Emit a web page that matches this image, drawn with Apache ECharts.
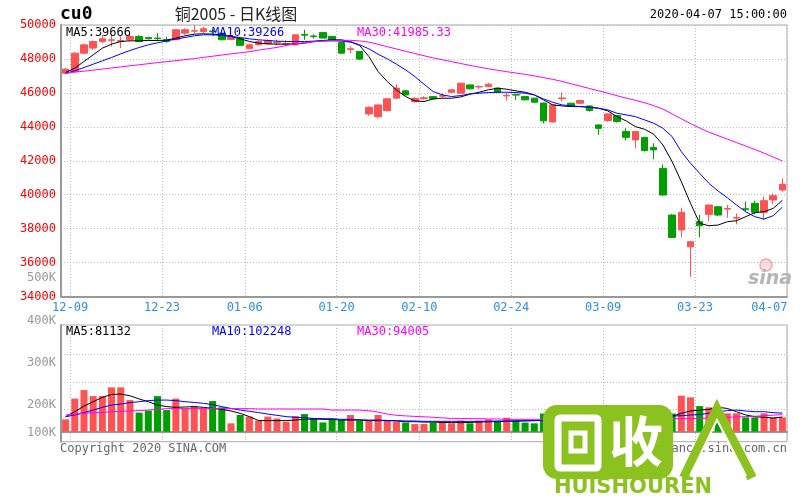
<!DOCTYPE html>
<html><head><meta charset="utf-8">
<script src="https://cdn.jsdelivr.net/npm/echarts@6/dist/echarts.min.js"></script>
<style>html,body{margin:0;padding:0;background:#fff}#c{width:800px;height:500px}</style>
</head><body><div id="c"></div>
<script>
const dates = ['12-09','12-10','12-11','12-12','12-13','12-16','12-17','12-18','12-19','12-20','12-23','12-24','12-25','12-26','12-27','12-30','12-31',
'01-02','01-03','01-06','01-07','01-08','01-09','01-10','01-13','01-14','01-15','01-16','01-17','01-20','01-21','01-22','01-23',
'02-03','02-04','02-05','02-06','02-07','02-10','02-11','02-12','02-13','02-14','02-17','02-18','02-19','02-20','02-21','02-24','02-25','02-26','02-27','02-28',
'03-02','03-03','03-04','03-05','03-06','03-09','03-10','03-11','03-12','03-13','03-16','03-17','03-18','03-19','03-20','03-23','03-24','03-25','03-26','03-27','03-30','03-31',
'04-01','04-02','04-03','04-07'];
const tickLabels = ['12-09','12-23','01-06','01-20','02-10','02-24','03-09','03-23','04-07'];
const opens  = [47160,47260,48340,48640,49030,49100,49040,49130,49320,49260,49230,49130,49130,49520,49640,49620,49650,49520,49150,49200,48620,48830,48890,48950,48880,48830,49450,49350,49560,49320,48970,48560,48440,44760,44600,44960,45690,46120,45480,45660,45780,45800,46040,45980,46470,46350,46370,46280,45820,45900,45780,45690,45400,44290,45660,45390,45390,45230,44110,44370,44660,43720,43230,43380,42790,41550,38800,37920,36930,38410,38840,39290,39150,38620,39170,39490,38960,39690,40280];
const closes = [47400,48340,48830,49030,49190,49130,49080,49320,49030,49190,49200,49030,49720,49720,49660,49780,49600,49130,49300,48800,48830,49030,49090,48990,48900,49420,49400,49320,49230,49130,48340,48600,47990,45150,45290,45650,46280,45880,45680,45710,45650,45840,46180,46570,46240,46370,46510,46040,45850,45870,45590,45450,44350,45290,45700,45230,45550,44960,43910,44760,44310,43380,43720,42600,42640,39980,37480,38960,37230,38170,39390,38800,39190,38660,39130,38960,39650,39940,40610];
const lows   = [47100,47200,48300,48540,48930,48730,48640,49030,48990,49150,49030,48950,49100,49420,49520,49520,49500,49100,49100,48750,48550,48800,48850,48800,48750,48800,49130,49200,49200,49100,48300,48350,47950,44650,44500,44900,45650,45850,45450,45600,45600,45690,46000,45950,46200,46250,46350,46000,45550,45590,45550,45400,44200,44250,45490,45200,45350,44900,43520,44300,44250,43190,42730,42550,42090,39950,37450,37480,35160,37480,38450,38750,38640,38250,39000,38840,38510,39430,40180];
const highs  = [47450,48400,48900,49080,49420,49420,49320,49520,49400,49300,49520,49300,49760,49810,50000,49900,49750,49550,49400,49250,48900,49100,49150,49150,49100,49450,49720,49450,49600,49350,49000,48750,48450,45200,45300,45700,46510,46150,45750,45800,45800,45980,46200,46600,46500,46450,46600,46300,46000,45950,45800,45700,45430,45300,46020,45420,45600,45250,44150,44800,44700,43910,43750,43400,43030,41790,38850,39230,37260,38800,39420,39320,39390,38900,39590,39650,39880,40080,40960];
const ma5  = [47200,47455,47848,48242,48635,48871,49028,49068,49068,49088,49088,49107,49225,49363,49461,49481,49461,49422,49323,49186,49028,48930,48891,48871,48871,48891,48930,49028,49088,49127,49127,49028,48792,48143,47258,46668,46176,45783,45527,45488,45645,45685,45685,45764,45921,46039,46177,46275,46216,46118,46039,45882,45587,45292,45233,45193,45193,45154,45095,44938,44603,44348,44013,43856,43561,42931,41948,40768,39489,38309,38171,38210,38407,38466,38702,38938,38997,39194,39666];
const ma10 = [47160,47298,47494,47691,47888,48084,48301,48497,48674,48832,48950,49068,49166,49264,49363,49422,49422,49383,49323,49264,49186,49127,49088,49048,49028,49028,49028,49048,49068,49068,49048,48989,48832,48596,48281,48006,47691,47357,46963,46511,46078,45882,45783,45843,45941,45980,46019,46039,46039,46019,45980,45882,45646,45449,45292,45233,45193,45154,45095,44997,44800,44702,44603,44407,44210,43915,43423,42538,41850,41260,40669,40217,39823,39391,38997,38702,38564,38761,39266];
const ma30 = [47160,47220,47280,47340,47400,47468,47530,47595,47655,47720,47782,47840,47900,47960,48020,48090,48160,48230,48300,48360,48427,48520,48600,48680,48790,48890,48960,49010,49050,49080,49090,49100,49060,48990,48860,48720,48590,48450,48320,48190,48060,47950,47840,47730,47620,47513,47420,47330,47250,47170,47093,47000,46900,46800,46680,46534,46400,46260,46120,45980,45832,45690,45560,45420,45250,45046,44760,44470,44190,43930,43684,43480,43280,43070,42870,42663,42450,42220,41985.33];
const volumes = [68000,182000,229000,196000,196000,244000,244000,174000,105000,116000,196000,119000,182000,128000,141000,128000,169000,134000,46000,92000,83000,61000,83000,73000,55000,86000,97000,73000,51000,73000,64000,92000,61000,61000,92000,61000,55000,50000,42000,42000,50000,55000,46000,61000,46000,61000,68000,55000,77000,61000,50000,46000,100000,90000,70000,60000,55000,65000,80000,70000,70000,80000,85000,80000,85000,95000,100000,198000,189000,141000,134000,110000,101000,101000,79000,79000,101000,79000,79000];
const volMa5 = [82000,110000,141000,165000,189000,205000,207000,198000,180000,165000,147000,138000,134000,136000,138000,134000,128000,123000,114000,101000,83000,61000,61000,61000,61000,64000,68000,70000,68000,68000,64000,64000,64000,61000,61000,61000,59000,55000,55000,53000,53000,51000,50000,50000,51000,53000,55000,55000,57000,59000,59000,61000,62000,66000,70000,72000,72000,70000,72000,76000,78000,80000,80000,80000,80000,82000,85000,101000,114000,119000,123000,134000,128000,110000,92000,83000,79000,75000,81132];
const volMa10 = [82000,92000,105000,119000,134000,147000,152000,160000,165000,171000,174000,174000,171000,165000,161000,156000,149000,138000,128000,119000,112000,105000,97000,90000,83000,79000,77000,73000,72000,70000,68000,68000,66000,64000,64000,62000,61000,59000,59000,57000,57000,57000,57000,57000,57000,57000,57000,59000,59000,59000,61000,61000,62000,63000,64000,65000,66000,67000,68000,70000,72000,74000,77000,80000,84000,88000,86000,88000,92000,95000,101000,108000,116000,119000,114000,110000,110000,105000,102248];
const volMa30 = [92000,97000,101000,105000,106000,110000,112000,114000,116000,119000,123000,127000,127000,127000,127000,127000,127000,127000,127000,127000,127000,125000,125000,125000,125000,125000,125000,125000,125000,119000,119000,119000,119000,115000,108000,97000,90000,87000,84000,82000,79000,76000,73000,73000,72000,72000,70000,70000,68000,68000,68000,68000,68000,68000,68000,68000,67000,67000,67000,68000,68000,69000,70000,71000,72000,72000,72000,72000,72000,73000,75000,77000,79000,81000,83000,85000,88000,91000,94005];
const volTickValues = [100000,200000,300000,400000,500000];

const RED = '#ff5252', GREEN = '#009f00';
const MONO = '"DejaVu Sans Mono","Liberation Mono",monospace';
const candleData = opens.map((o, i) => [o, closes[i], lows[i], highs[i]]);
const isTickDay = v => tickLabels.indexOf(v) >= 0;
const lastTick = tickLabels[tickLabels.length - 1];
const dotted = {color: '#bbbbbb', type: [1, 2], width: 1};

function catAxis(gi, showLabel) {
  return {
    type: 'category', gridIndex: gi, data: dates, boundaryGap: true,
    axisLine: {show: true, lineStyle: {color: '#999', width: 2}},
    axisTick: {show: false},
    axisLabel: {
      show: showLabel, interval: (i, v) => isTickDay(v), margin: 5,
      formatter: v => (v === lastTick ? '{e|' + v + '}' : '{n|' + v + '}'),
      rich: {
        n: {padding: [0, 0, 0, 9], color: '#2b8fe0', fontFamily: MONO, fontSize: 12},
        e: {padding: [0, 26, 0, 0], color: '#2b8fe0', fontFamily: MONO, fontSize: 12}
      }
    },
    splitLine: {show: true, interval: i => i > 0 && isTickDay(dates[i - 1]), lineStyle: dotted}
  };
}
function line(name, data, color, xi, yi) {
  return {name, type: 'line', data, xAxisIndex: xi, yAxisIndex: yi, symbol: 'none', smooth: false,
    lineStyle: {color, width: 1}, itemStyle: {color}, z: 5};
}
const txt = (x, y, text, fill, font, align, z) => ({type: 'text', x, y, z: z || 100,
  style: {text, fill, font, align: align || 'left', verticalAlign: 'middle', textAlign: align || 'left', textVerticalAlign: 'middle'}});
const LOGO = '#8cc21f';

const option = {
  animation: false,
  backgroundColor: '#ffffff',
  grid: [
    {left: 61, right: 13, top: 25, height: 271.5, show: true, borderColor: '#aaa', borderWidth: 1},
    {left: 61, right: 13, top: 325, height: 116.7, show: true, borderColor: '#aaa', borderWidth: 1},
    {left: 61, right: 13, top: 278.3, height: 168.8},
    {left: 61, right: 13, top: 326.8, height: 110}
  ],
  xAxis: [
    catAxis(0, true),
    catAxis(1, false),
    {type: 'value', gridIndex: 2, show: false},
    {type: 'value', gridIndex: 3, show: false}
  ],
  yAxis: [
    {type: 'value', gridIndex: 0, min: 34000, max: 50000, interval: 2000,
      axisLine: {show: true, lineStyle: {color: '#999', width: 2}}, axisTick: {show: false},
      axisLabel: {color: '#ff0000', fontFamily: MONO, fontSize: 12, margin: 5, formatter: v => String(v)},
      splitLine: {show: true, lineStyle: dotted}},
    {type: 'value', gridIndex: 1, min: -55000, max: 587000,
      axisLine: {show: true, lineStyle: {color: '#999', width: 2}}, axisTick: {show: false},
      axisLabel: {show: false}, splitLine: {show: false}},
    {type: 'value', gridIndex: 2, min: 100000, max: 500000, interval: 100000,
      axisLine: {show: false}, axisTick: {show: false}, splitLine: {show: false},
      axisLabel: {margin: 5, formatter: v => (v === volTickValues[0] ? '{b|' + v / 1000 + 'K}' : '{a|' + v / 1000 + 'K}'),
        rich: {a: {color: '#999', fontFamily: MONO, fontSize: 12},
               b: {color: '#999', fontFamily: MONO, fontSize: 12, padding: [0, 0, 29, 0]}}}},
    {type: 'value', gridIndex: 3, min: 0, max: 4, interval: 1,
      axisLine: {show: false}, axisTick: {show: false}, axisLabel: {show: false},
      splitLine: {show: true, showMinLine: false, showMaxLine: false, lineStyle: dotted}}
  ],
  series: [
    {name: 'K', type: 'candlestick', data: candleData, xAxisIndex: 0, yAxisIndex: 0, barWidth: 7,
      itemStyle: {color: RED, color0: GREEN, borderColor: RED, borderColor0: GREEN, borderWidth: 1}},
    line('MA5', ma5, '#000000', 0, 0),
    line('MA10', ma10, '#0000ff', 0, 0),
    line('MA30', ma30, '#ff00ff', 0, 0),
    {name: 'VOL', type: 'bar', data: volumes, xAxisIndex: 1, yAxisIndex: 1, barWidth: 7,
      itemStyle: {color: p => (closes[p.dataIndex] >= opens[p.dataIndex] ? RED : GREEN)}},
    line('VMA5', volMa5, '#000000', 1, 1),
    line('VMA10', volMa10, '#0000ff', 1, 1),
    line('VMA30', volMa30, '#ff00ff', 1, 1)
  ],
  graphic: [
    txt(60, 14, 'cu0', '#000', 'bold 18px ' + MONO),
    txt(236, 14, '铜2005 - 日K线图', '#222', '16px "Noto Sans CJK SC", sans-serif', 'center'),
    txt(787, 15, '2020-04-07 15:00:00', '#000', '12px ' + MONO, 'right'),
    txt(66, 33, 'MA5:' + ma5[ma5.length - 1], '#000', '12px ' + MONO),
    txt(212, 33, 'MA10:' + ma10[ma10.length - 1], '#0000ff', '12px ' + MONO),
    txt(357, 33, 'MA30:' + ma30[ma30.length - 1], '#ff00ff', '12px ' + MONO),
    txt(66, 332, 'MA5:' + volMa5[volMa5.length - 1], '#000', '12px ' + MONO),
    txt(212, 332, 'MA10:' + volMa10[volMa10.length - 1], '#0000ff', '12px ' + MONO),
    txt(357, 332, 'MA30:' + volMa30[volMa30.length - 1], '#ff00ff', '12px ' + MONO),
    txt(60, 449, 'Copyright 2020 SINA.COM', '#666', '12px ' + MONO),
    txt(787, 449, 'finance.sina.com.cn', '#666', '12px ' + MONO, 'right'),
    {type: 'circle', z: 90, shape: {cx: 766, cy: 265, r: 6}, style: {fill: 'rgba(255,150,150,0.3)', stroke: '#f6a5a5', lineWidth: 1.5}},
    txt(748, 279, 'sina', '#b5b5b5', 'italic bold 19px "DejaVu Sans", sans-serif'),
    {type: 'rect', z: 110, shape: {x: 543, y: 405, width: 130, height: 74, r: 14}, style: {fill: LOGO}},
    {type: 'rect', z: 111, shape: {x: 558, y: 418, width: 40, height: 50, r: 2}, style: {fill: null, stroke: '#fff', lineWidth: 7}},
    {type: 'rect', z: 111, shape: {x: 571, y: 433, width: 14, height: 18}, style: {fill: null, stroke: '#fff', lineWidth: 5}},
    {type: 'text', z: 111, x: 636, y: 441, style: {text: '收', fill: '#fff', font: 'bold 54px "Noto Sans CJK SC", sans-serif', align: 'center', verticalAlign: 'middle', textAlign: 'center', textVerticalAlign: 'middle'}},
    {type: 'polyline', z: 110, shape: {points: [[684, 478], [717, 410], [752, 478]]}, style: {stroke: LOGO, lineWidth: 10, fill: null}},
    {type: 'polyline', z: 111, shape: {points: [[690, 476], [717, 420], [746, 476]]}, style: {stroke: '#fff', lineWidth: 2, fill: null}},
    {type: 'text', z: 111, x: 633, y: 488, style: {text: 'HUISHOUREN', fill: LOGO, font: 'bold 21px "DejaVu Sans", sans-serif', align: 'center', verticalAlign: 'middle', textAlign: 'center', textVerticalAlign: 'middle'}}
  ]
};
const chart = echarts.init(document.getElementById('c'), null, {renderer: 'canvas'});
chart.setOption(option);
</script></body></html>
